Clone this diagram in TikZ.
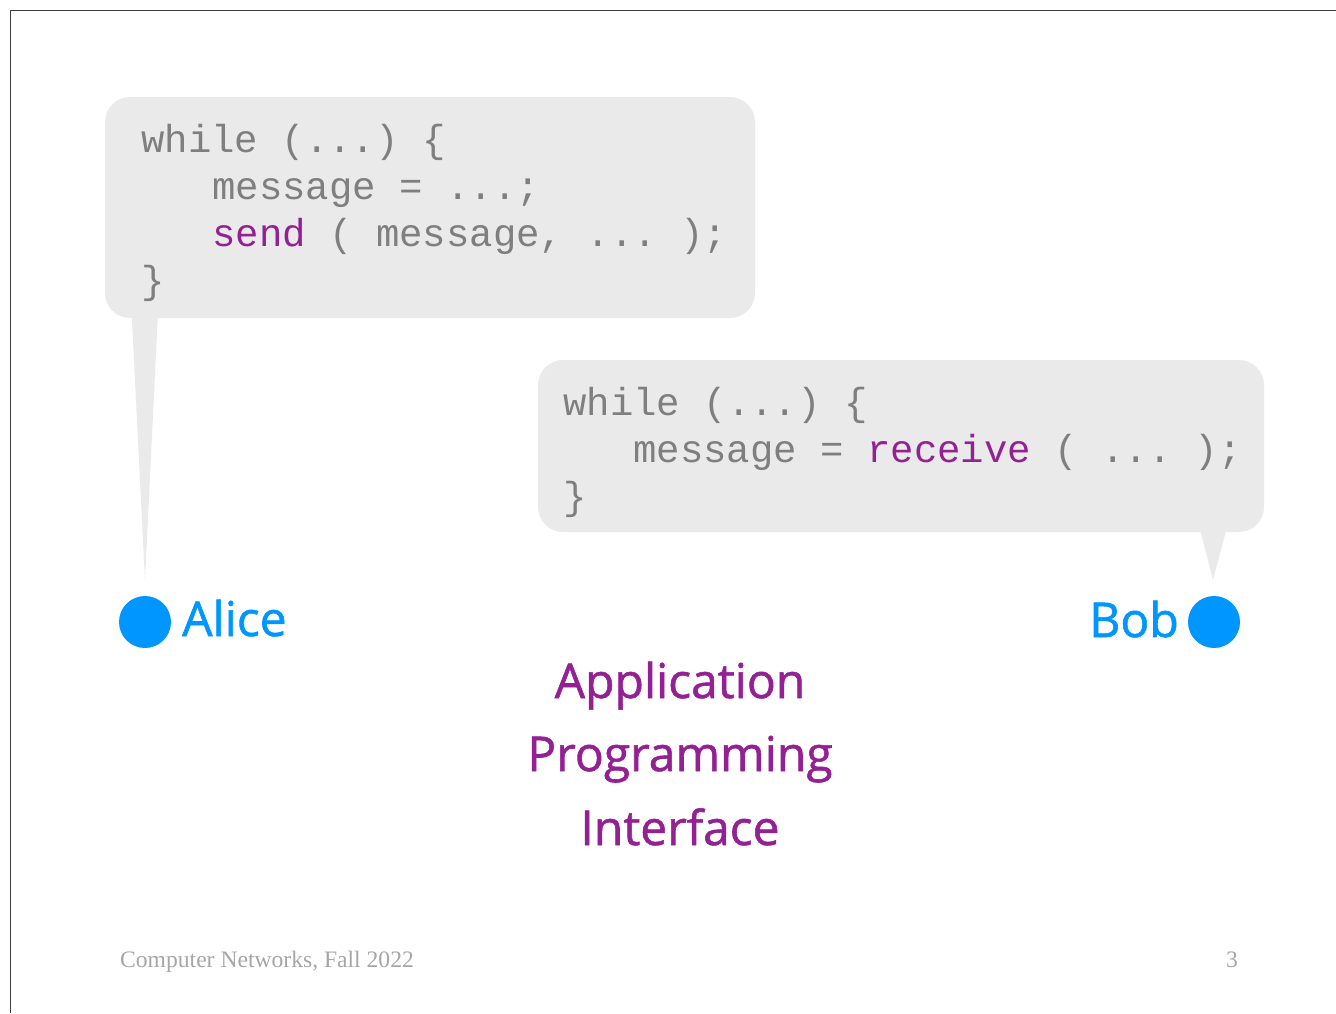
\documentclass[tikz,border=0pt]{standalone}
\usepackage{fontspec}
\setmainfont{Liberation Serif}
\newfontfamily\codefont{Liberation Mono}
\newfontfamily\handfont[FakeBold=1.2]{Open Sans}
\usetikzlibrary{calc}

\definecolor{bubblegray}{HTML}{EAEAEA}
\definecolor{codegray}{HTML}{7F7F7F}
\definecolor{apipurple}{HTML}{942193}
\definecolor{hostblue}{HTML}{0096FF}
\definecolor{footgray}{HTML}{A6A6A6}

\begin{document}
\begin{tikzpicture}[x=1pt,y=-1pt,
  bubble/.style={fill=bubblegray,rounded corners=25pt,inner sep=0pt},
  code/.style={anchor=base west,inner sep=0pt,text=codegray,
    font=\codefont\fontsize{39}{47}\selectfont\frenchspacing},
  host/.style={circle,fill=hostblue,inner sep=0pt,minimum size=52pt},
  hostname/.style={inner sep=0pt,text=hostblue,font=\handfont\fontsize{48}{58}\selectfont},
  api/.style={anchor=base,inner sep=0pt,text=apipurple,font=\handfont\fontsize{48}{58}\selectfont}]
  \useasboundingbox (0,0) rectangle (1336,1013);

  %% Slide frame
  \draw[line width=1pt,black!75] (10,1013) -- (10,10) -- (1336,10);

  %% The two hosts
  \node[host] (ALICE) at (145,622) {};
  \node[host] (BOB)   at (1214,622) {};
  \node[hostname,anchor=base west] (ALICEname) at ($(ALICE)+(37,14)$) {Alice};
  \node[hostname,anchor=base east] (BOBname)   at ($(BOB)-(35,-15)$) {Bob};
  \coordinate (ALICEtip) at ($(ALICE)-(0,42)$);
  \coordinate (BOBtip)   at ($(BOB)-(1,42)$);

  %% Speech bubbles
  \node[bubble,minimum width=650pt,minimum height=221pt] (SEND) at (430,207.5) {};
  \node[bubble,minimum width=726pt,minimum height=172pt] (RECV) at (901,446) {};
  \fill[bubblegray] ($(SEND.south west)+(27,-2)$) -- (ALICEtip) -- ($(SEND.south west)+(53,-2)$) -- cycle;
  \fill[bubblegray] ($(RECV.south east)+(-64,-2)$) -- (BOBtip) -- ($(RECV.south east)+(-38,-2)$) -- cycle;

  %% Sender loop
  \node[code] (S1) at (141,152) {while (...) \{};
  \node[code] (S2) at (212,199) {message = ...;};
  \node[code] (S3) at (212,246) {\textcolor{apipurple}{send} ( message, ... );};
  \node[code] (S4) at (141,293) {\}};

  %% Receiver loop
  \node[code] (R1) at (563,415) {while (...) \{};
  \node[code] (R2) at (633,462) {message = \textcolor{apipurple}{receive} ( ... );};
  \node[code] (R3) at (563,509) {\}};

  %% API label
  \foreach \w/\y in {Application/698,Programming/771,Interface/845}
    \node[api] (API\w) at (680,\y) {\w};

  %% Footer
  \node[anchor=base west,inner sep=0pt,text=footgray,font=\fontsize{23.6}{28}\selectfont] (FOOT) at (120,967) {Computer Networks, Fall 2022};
  \node[anchor=base east,inner sep=0pt,text=footgray,font=\fontsize{23.6}{28}\selectfont] (PAGE) at (1238,967) {3};
\end{tikzpicture}
\end{document}
